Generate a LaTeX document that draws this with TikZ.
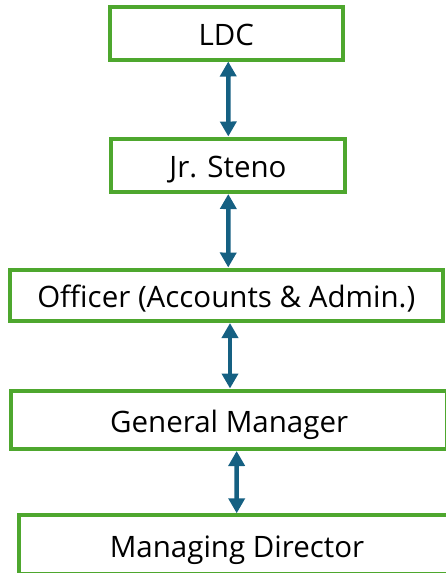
\documentclass[tikz,border=0pt]{standalone}
\usepackage{fontspec}
\setmainfont{Open Sans}
\usetikzlibrary{arrows.meta}
\definecolor{boxgreen}{HTML}{4EA72E}
\definecolor{arrblue}{HTML}{156082}
\tikzset{
  rolebox/.style={draw=boxgreen, line width=4pt, outer sep=2pt, inner sep=0pt, fill=white,
    font=\fontsize{29.5}{34}\selectfont, text=black, text height=25.2pt, text depth=0pt},
  link/.style={draw=arrblue, line width=4.5pt,
    {Triangle[width=16pt,length=15pt]}-{Triangle[width=16pt,length=15pt]}}
}
\begin{document}
\begin{tikzpicture}[x=1pt,y=1pt]
\useasboundingbox (0,0) rectangle (446,-573);
\node[rolebox, minimum width=233.5pt, minimum height=52.5pt] (ldc) at (226.25,-33.25) {LDC};
\node[rolebox, minimum width=234pt, minimum height=53.5pt] (jr) at (228,-165.25) {Jr. Steno};
\node[rolebox, minimum width=433.5pt, minimum height=51.5pt] (off) at (226.25,-295.25) {Officer (Accounts \& Admin.)};
\node[rolebox, minimum width=435.7pt, minimum height=58.5pt] (gm) at (229.15,-419.75) {General Manager};
\node[rolebox, minimum width=436pt, minimum height=58.2pt] (md) at (237,-544.4) {Managing Director};
\draw[link] ([xshift=2pt]ldc.south) -- ([xshift=0.3pt]jr.north);
\draw[link] ([xshift=0.3pt]jr.south) -- ([xshift=2pt]off.north);
\draw[link] ([xshift=3.75pt]off.south) -- ([xshift=0.85pt]gm.north);
\draw[link] ([xshift=7.5pt]gm.south) -- ([xshift=-0.3pt]md.north);
\end{tikzpicture}
\end{document}
